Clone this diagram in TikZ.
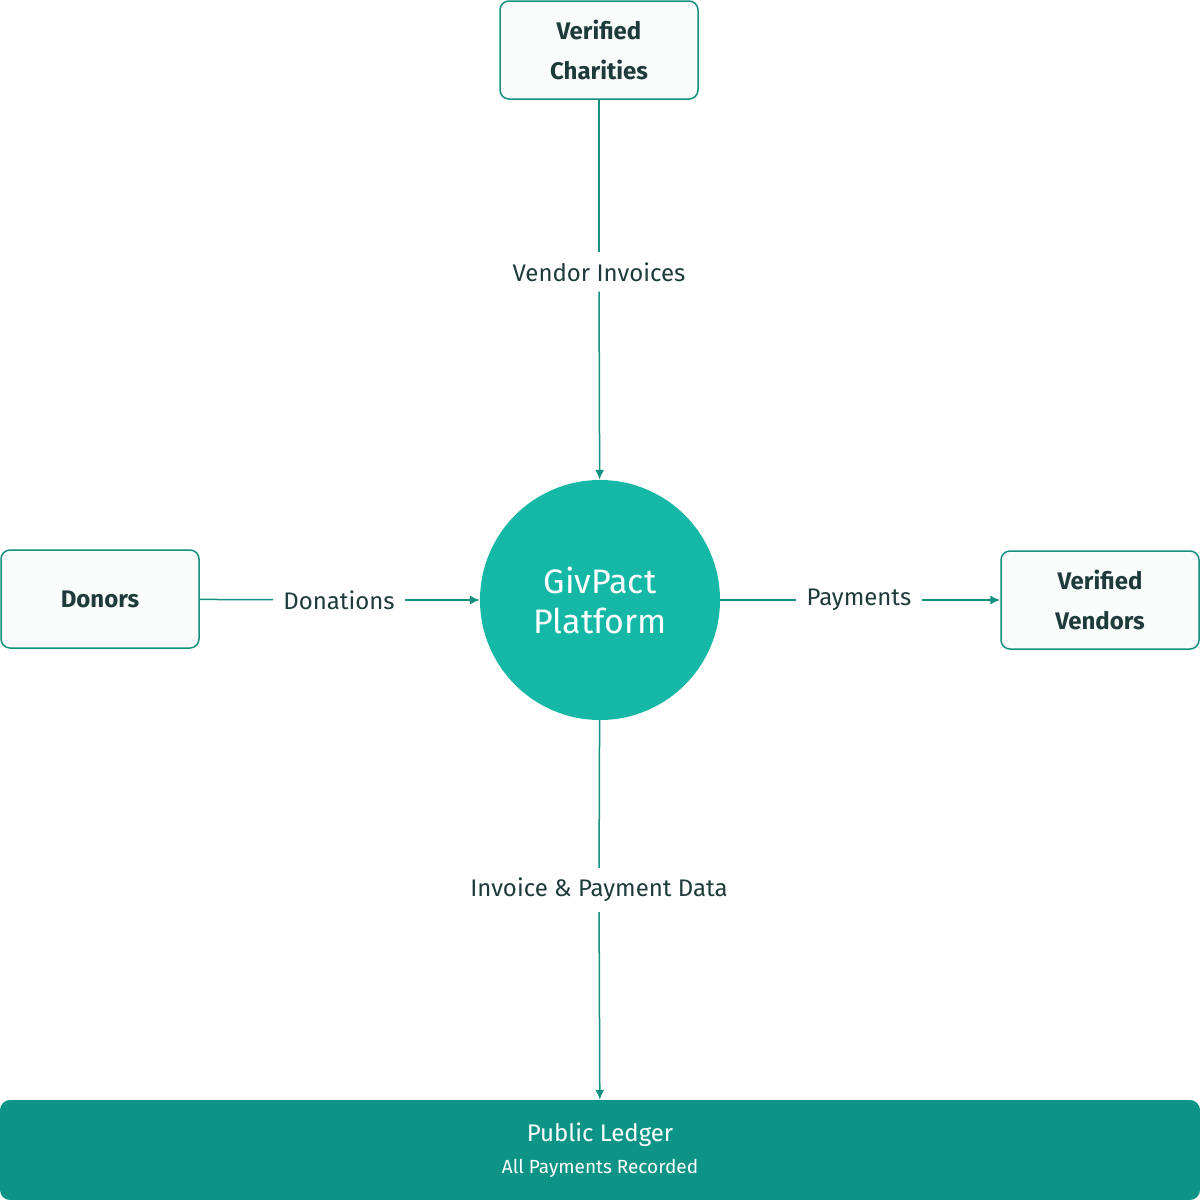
\documentclass[tikz,border=0pt]{standalone}
\usepackage{fontspec}
\setmainfont{Fira Sans}
\usetikzlibrary{positioning,arrows.meta}
\definecolor{ink}{HTML}{1D3B3B}
\definecolor{teal}{HTML}{15B8A6}
\definecolor{deepteal}{HTML}{0E9486}
\definecolor{wire}{HTML}{13907F}
\tikzset{
  box/.style={draw=wire, line width=1.5pt, rounded corners=9pt, fill=white!98!ink,
    minimum width=198pt, minimum height=98pt, align=center, text=ink,
    font=\fontsize{24}{40}\selectfont\bfseries},
  lbl/.style={text=ink, font=\fontsize{24}{28}\selectfont, inner sep=10pt},
  flow/.style={draw=wire, line width=1.5pt},
  arr/.style={flow, -{Latex[length=10pt,width=9pt]}}
}
\begin{document}
\begin{tikzpicture}[x=1pt,y=-1pt]
\useasboundingbox (0,0) rectangle (1200,1200);

\node[box] (charities) at (599,50) {Verified\\Charities};
\node[box] (donors) at (100,599) {Donors};
\node[box] (vendors) at (1100,600) {Verified\\Vendors};
\node[circle, fill=teal, minimum size=240pt, text=white, align=center,
  font=\fontsize{34}{40}\selectfont] (platform) at (600,600) {GivPact\\Platform};
\node[fill=deepteal, rounded corners=10pt, minimum width=1200pt, minimum height=100pt,
  text=white, align=center, font=\fontsize{24}{34}\selectfont] (ledger) at (600,1150)
  {Public Ledger\\[-2pt]{\fontsize{19}{22}\selectfont All Payments Recorded}};

\node[lbl] (invoices) at (599,272) {Vendor Invoices};
\node[lbl] (donations) at (339,600) {Donations};
\node[lbl] (payments) at (859,600) {Payments};
\node[lbl] (data) at (599,890) {Invoice \& Payment Data};

% links
\draw[flow] (charities) -- (invoices);
\draw[arr] (invoices) -- (platform);
\draw[flow] (donors) -- (donations);
\draw[arr] (donations) -- (platform);
\draw[flow] (platform) -- (payments);
\draw[arr] (payments) -- (vendors);
\draw[flow] (platform) -- (data);
\draw[arr] (data) -- (ledger);
\end{tikzpicture}
\end{document}
